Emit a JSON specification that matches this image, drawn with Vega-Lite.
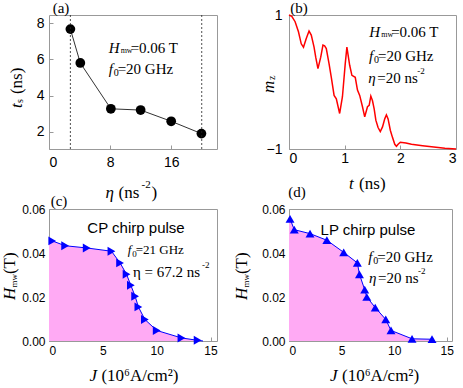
{
  "$schema": "https://vega.github.io/schema/vega-lite/v6.json",
  "padding": {"left": 0, "top": 0, "right": 0, "bottom": 0},
  "config": {
    "view": {"stroke": "#999999", "strokeWidth": 1},
    "axis": {"grid": false, "domain": false, "tickColor": "#999999", "tickSize": -4, "labelFont": "Liberation Sans", "labelFontWeight": "normal", "labelColor": "#000000", "labelFontSize": 13, "labelPadding": 8},
    "text": {"font": "Liberation Serif", "fontWeight": "normal", "color": "#000000"}
  },
  "datasets": {
    "a": [
      {"eta": 2.8, "ts": 7.67}, {"eta": 4.1, "ts": 5.8}, {"eta": 8.1, "ts": 3.27},
      {"eta": 12.0, "ts": 3.2}, {"eta": 16.0, "ts": 2.58}, {"eta": 19.96, "ts": 1.9}
    ],
    "b": [
      {"t": 0, "m": 1}, {"t": 0.05, "m": 0.98}, {"t": 0.11, "m": 0.9}, {"t": 0.17, "m": 0.75},
      {"t": 0.22, "m": 0.57}, {"t": 0.26, "m": 0.52}, {"t": 0.31, "m": 0.65}, {"t": 0.36, "m": 0.76},
      {"t": 0.4, "m": 0.7}, {"t": 0.45, "m": 0.52}, {"t": 0.48, "m": 0.37}, {"t": 0.52, "m": 0.2},
      {"t": 0.57, "m": 0.37}, {"t": 0.61, "m": 0.55}, {"t": 0.64, "m": 0.54}, {"t": 0.67, "m": 0.5},
      {"t": 0.72, "m": 0.27}, {"t": 0.76, "m": 0.07}, {"t": 0.81, "m": -0.2}, {"t": 0.85, "m": -0.25},
      {"t": 0.91, "m": -0.47}, {"t": 0.96, "m": -0.22}, {"t": 1.01, "m": 0.27}, {"t": 1.04, "m": 0.52},
      {"t": 1.09, "m": 0.25}, {"t": 1.13, "m": 0.1}, {"t": 1.19, "m": 0.07}, {"t": 1.23, "m": -0.12},
      {"t": 1.27, "m": -0.2}, {"t": 1.32, "m": -0.37}, {"t": 1.36, "m": -0.52}, {"t": 1.41, "m": -0.37},
      {"t": 1.44, "m": -0.35}, {"t": 1.47, "m": -0.21}, {"t": 1.5, "m": -0.28}, {"t": 1.53, "m": -0.4},
      {"t": 1.56, "m": -0.57}, {"t": 1.6, "m": -0.68}, {"t": 1.64, "m": -0.74}, {"t": 1.68, "m": -0.67},
      {"t": 1.72, "m": -0.55}, {"t": 1.75, "m": -0.49}, {"t": 1.78, "m": -0.55}, {"t": 1.82, "m": -0.72},
      {"t": 1.86, "m": -0.83}, {"t": 1.9, "m": -0.93}, {"t": 1.93, "m": -0.96}, {"t": 1.96, "m": -0.93},
      {"t": 2.0, "m": -0.9}, {"t": 2.1, "m": -0.91}, {"t": 2.2, "m": -0.93}, {"t": 2.4, "m": -0.95},
      {"t": 2.6, "m": -0.97}, {"t": 2.8, "m": -0.99}, {"t": 3.0, "m": -1.0}
    ],
    "c": [
      {"J": 0, "H": 0.0465, "mk": false}, {"J": 0.3, "H": 0.0455, "mk": true}, {"J": 1.5, "H": 0.0433, "mk": true},
      {"J": 3.5, "H": 0.0423, "mk": true}, {"J": 5.8, "H": 0.0408, "mk": true}, {"J": 6.6, "H": 0.0355, "mk": true},
      {"J": 7.2, "H": 0.0303, "mk": true}, {"J": 7.6, "H": 0.0253, "mk": true}, {"J": 8.0, "H": 0.0203, "mk": true},
      {"J": 8.3, "H": 0.0155, "mk": true}, {"J": 8.9, "H": 0.0098, "mk": true}, {"J": 10.0, "H": 0.0048, "mk": true},
      {"J": 12.3, "H": 0.0014, "mk": true}, {"J": 13.8, "H": 0.0003, "mk": true}, {"J": 14.3, "H": 0, "mk": false}
    ],
    "d": [
      {"J": 0, "H": 0.0565, "mk": false}, {"J": 0.1, "H": 0.0555, "mk": true}, {"J": 0.5, "H": 0.0506, "mk": true},
      {"J": 2.0, "H": 0.0488, "mk": true}, {"J": 3.6, "H": 0.0458, "mk": true}, {"J": 5.2, "H": 0.0403, "mk": true},
      {"J": 6.5, "H": 0.0355, "mk": true}, {"J": 6.7, "H": 0.0303, "mk": true}, {"J": 7.2, "H": 0.0233, "mk": true},
      {"J": 7.4, "H": 0.02, "mk": true}, {"J": 8.2, "H": 0.0152, "mk": true}, {"J": 9.2, "H": 0.0098, "mk": true},
      {"J": 9.7, "H": 0.0048, "mk": true}, {"J": 11.7, "H": 0.001, "mk": true}, {"J": 13.6, "H": 0.0008, "mk": true}
    ]
  },
  "columns": 2,
  "bounds": "flush",
  "spacing": {"row": 60, "column": 72},
  "concat": [
    {
      "width": 168, "height": 134,
      "layer": [
        {
          "data": {"name": "a"},
          "encoding": {
            "x": {"field": "eta", "type": "quantitative", "title": null, "scale": {"domain": [0, 22], "nice": false, "zero": false}, "axis": {"values": [0, 8, 16], "format": "d", "labelPadding": 10, "labelFontSize": 14}},
            "y": {"field": "ts", "type": "quantitative", "title": null, "scale": {"domain": [1.05, 8.45], "nice": false, "zero": false}, "axis": {"values": [2, 4, 6, 8], "format": "d", "labelPadding": 9, "labelFontSize": 14}}
          },
          "layer": [
            {"mark": {"type": "line", "color": "#333333", "strokeWidth": 1}},
            {"mark": {"type": "point", "filled": true, "color": "#000000", "size": 95, "opacity": 1}}
          ]
        },
        {
          "data": {"values": [{"k": 1}]},
          "layer": [
            {"mark": {"type": "rule", "color": "#222222", "strokeDash": [2, 2], "strokeWidth": 0.8}, "encoding": {"x": {"datum": 2.8}}},
            {"mark": {"type": "rule", "color": "#222222", "strokeDash": [2, 2], "strokeWidth": 0.8}, "encoding": {"x": {"datum": 20}}},
            {"mark": {"type": "text", "text": "(a)", "fontSize": 15, "align": "center"}, "encoding": {"x": {"datum": 1.57}, "y": {"datum": 8.84}}},
            {"mark": {"type": "text", "text": "H", "fontSize": 15, "fontStyle": "italic", "align": "left"}, "encoding": {"x": {"datum": 7.81}, "y": {"datum": 6.63}}},
            {"mark": {"type": "text", "text": "mw", "fontSize": 8, "align": "left", "dx": 12, "dy": 3}, "encoding": {"x": {"datum": 7.81}, "y": {"datum": 6.63}}},
            {"mark": {"type": "text", "text": "=0.06 T", "fontSize": 15, "align": "left", "dx": 22}, "encoding": {"x": {"datum": 7.81}, "y": {"datum": 6.63}}},
            {"mark": {"type": "text", "text": "f", "fontSize": 15, "fontStyle": "italic", "align": "left"}, "encoding": {"x": {"datum": 7.81}, "y": {"datum": 5.47}}},
            {"mark": {"type": "text", "text": "0", "fontSize": 10, "align": "left", "dx": 5, "dy": 4}, "encoding": {"x": {"datum": 7.81}, "y": {"datum": 5.47}}},
            {"mark": {"type": "text", "text": "=20 GHz", "fontSize": 15, "align": "left", "dx": 9}, "encoding": {"x": {"datum": 7.81}, "y": {"datum": 5.47}}},
            {"mark": {"type": "text", "text": "t", "fontSize": 17, "fontStyle": "italic", "align": "left", "angle": 270}, "encoding": {"x": {"datum": -4.2}, "y": {"datum": 3.31}}},
            {"mark": {"type": "text", "text": "s", "fontSize": 10, "align": "left", "angle": 270, "dx": 5, "dy": 3}, "encoding": {"x": {"datum": -4.2}, "y": {"datum": 3.31}}},
            {"mark": {"type": "text", "text": "(ns)", "fontSize": 17, "align": "left", "angle": 270, "dx": 14}, "encoding": {"x": {"datum": -4.2}, "y": {"datum": 3.31}}},
            {"mark": {"type": "text", "text": "η", "fontSize": 17, "fontStyle": "italic", "align": "left"}, "encoding": {"x": {"datum": 7.4}, "y": {"datum": -1.4}}},
            {"mark": {"type": "text", "text": "(ns", "fontSize": 17, "align": "left", "dx": 13}, "encoding": {"x": {"datum": 7.4}, "y": {"datum": -1.4}}},
            {"mark": {"type": "text", "text": "-2", "fontSize": 11, "align": "left", "dx": 36, "dy": -8}, "encoding": {"x": {"datum": 7.4}, "y": {"datum": -1.4}}},
            {"mark": {"type": "text", "text": ")", "fontSize": 17, "align": "left", "dx": 46}, "encoding": {"x": {"datum": 7.4}, "y": {"datum": -1.4}}}
          ]
        }
      ]
    },
    {
      "width": 167, "height": 134,
      "layer": [
        {
          "data": {"name": "b"},
          "mark": {"type": "line", "color": "#ff0000", "strokeWidth": 1.5},
          "encoding": {
            "x": {"field": "t", "type": "quantitative", "title": null, "scale": {"domain": [0, 3], "nice": false, "zero": false}, "axis": {"values": [0, 1, 2, 3], "format": "d", "labelPadding": 6, "labelFontSize": 14}},
            "y": {"field": "m", "type": "quantitative", "title": null, "scale": {"domain": [-1, 1], "nice": false, "zero": false}, "axis": {"values": [-1, 0, 1], "format": "d", "labelPadding": 11, "labelFontSize": 14}}
          }
        },
        {
          "data": {"values": [{"k": 1}]},
          "layer": [
            {"mark": {"type": "text", "text": "(b)", "fontSize": 15, "align": "center"}, "encoding": {"x": {"datum": 0.18}, "y": {"datum": 1.104}}},
            {"mark": {"type": "text", "text": "H", "fontSize": 15, "fontStyle": "italic", "align": "left"}, "encoding": {"x": {"datum": 1.44}, "y": {"datum": 0.742}}},
            {"mark": {"type": "text", "text": "mw", "fontSize": 8, "align": "left", "dx": 12, "dy": 3}, "encoding": {"x": {"datum": 1.44}, "y": {"datum": 0.742}}},
            {"mark": {"type": "text", "text": "=0.06 T", "fontSize": 15, "align": "left", "dx": 22}, "encoding": {"x": {"datum": 1.44}, "y": {"datum": 0.742}}},
            {"mark": {"type": "text", "text": "f", "fontSize": 15, "fontStyle": "italic", "align": "left"}, "encoding": {"x": {"datum": 1.437}, "y": {"datum": 0.384}}},
            {"mark": {"type": "text", "text": "0", "fontSize": 10, "align": "left", "dx": 5, "dy": 4}, "encoding": {"x": {"datum": 1.437}, "y": {"datum": 0.384}}},
            {"mark": {"type": "text", "text": "=20 GHz", "fontSize": 15, "align": "left", "dx": 9}, "encoding": {"x": {"datum": 1.437}, "y": {"datum": 0.384}}},
            {"mark": {"type": "text", "text": "η", "fontSize": 15, "fontStyle": "italic", "align": "left"}, "encoding": {"x": {"datum": 1.425}, "y": {"datum": 0.06}}},
            {"mark": {"type": "text", "text": "=20 ns", "fontSize": 15, "align": "left", "dx": 9}, "encoding": {"x": {"datum": 1.425}, "y": {"datum": 0.06}}},
            {"mark": {"type": "text", "text": "-2", "fontSize": 9, "align": "left", "dx": 49, "dy": -7}, "encoding": {"x": {"datum": 1.425}, "y": {"datum": 0.06}}},
            {"mark": {"type": "text", "text": "m", "fontSize": 17, "fontStyle": "italic", "align": "left", "angle": 270}, "encoding": {"x": {"datum": -0.36}, "y": {"datum": -0.164}}},
            {"mark": {"type": "text", "text": "z", "fontSize": 10, "align": "left", "angle": 270, "dx": 13, "dy": 3}, "encoding": {"x": {"datum": -0.36}, "y": {"datum": -0.164}}},
            {"mark": {"type": "text", "text": "t", "fontSize": 17, "fontStyle": "italic", "align": "left"}, "encoding": {"x": {"datum": 1.08}, "y": {"datum": -1.52}}},
            {"mark": {"type": "text", "text": "(ns)", "fontSize": 17, "align": "left", "dx": 10}, "encoding": {"x": {"datum": 1.08}, "y": {"datum": -1.52}}}
          ]
        }
      ]
    },
    {
      "width": 168, "height": 132,
      "layer": [
        {
          "data": {"name": "c"},
          "encoding": {
            "x": {"field": "J", "type": "quantitative", "title": null, "scale": {"domain": [0, 15.6], "nice": false, "zero": false}, "axis": {"values": [0, 5, 10, 15], "format": "d", "labelPadding": 8, "labelFontSize": 12}},
            "y": {"field": "H", "type": "quantitative", "title": null, "scale": {"domain": [0, 0.06], "nice": false, "zero": false}, "axis": {"values": [0, 0.02, 0.04, 0.06], "format": ".2f", "labelPadding": 8, "labelFontSize": 12}}
          },
          "layer": [
            {"mark": {"type": "area", "color": "#ffaaf4", "opacity": 1}},
            {"mark": {"type": "line", "color": "#0000ff", "strokeWidth": 1}},
            {"transform": [{"filter": "datum.mk"}], "mark": {"type": "point", "shape": "triangle-right", "filled": true, "color": "#0000ff", "size": 80, "opacity": 1}}
          ]
        },
        {
          "data": {"values": [{"k": 1}]},
          "layer": [
            {"mark": {"type": "text", "text": "(c)", "fontSize": 15, "align": "center"}, "encoding": {"x": {"datum": 0.93}, "y": {"datum": 0.0636}}},
            {"mark": {"type": "text", "text": "CP chirp pulse", "font": "Liberation Sans", "fontSize": 15, "align": "center"}, "encoding": {"x": {"datum": 8.08}, "y": {"datum": 0.0515}}},
            {"mark": {"type": "text", "text": "f", "fontSize": 13, "fontStyle": "italic", "align": "left"}, "encoding": {"x": {"datum": 7.31}, "y": {"datum": 0.0412}}},
            {"mark": {"type": "text", "text": "0", "fontSize": 9, "align": "left", "dx": 4.5, "dy": 4}, "encoding": {"x": {"datum": 7.31}, "y": {"datum": 0.0412}}},
            {"mark": {"type": "text", "text": "=21 GHz", "fontSize": 13, "align": "left", "dx": 8}, "encoding": {"x": {"datum": 7.31}, "y": {"datum": 0.0412}}},
            {"mark": {"type": "text", "text": "η = 67.2 ns", "fontSize": 15, "align": "left"}, "encoding": {"x": {"datum": 7.8}, "y": {"datum": 0.0314}}},
            {"mark": {"type": "text", "text": "-2", "fontSize": 9, "align": "left", "dx": 69, "dy": -7}, "encoding": {"x": {"datum": 7.8}, "y": {"datum": 0.0314}}},
            {"mark": {"type": "text", "text": "H", "fontSize": 17, "fontStyle": "italic", "align": "left", "angle": 270}, "encoding": {"x": {"datum": -3.62}, "y": {"datum": 0.0186}}},
            {"mark": {"type": "text", "text": "mw", "fontSize": 9, "align": "left", "angle": 270, "dx": 12.5, "dy": 4}, "encoding": {"x": {"datum": -3.62}, "y": {"datum": 0.0186}}},
            {"mark": {"type": "text", "text": "(T)", "fontSize": 17, "align": "left", "angle": 270, "dx": 26}, "encoding": {"x": {"datum": -3.62}, "y": {"datum": 0.0186}}},
            {"mark": {"type": "text", "text": "J", "fontSize": 17, "fontStyle": "italic", "align": "left"}, "encoding": {"x": {"datum": 3.75}, "y": {"datum": -0.0159}}},
            {"mark": {"type": "text", "text": "(10⁶A/cm²)", "fontSize": 17, "align": "left", "dx": 12}, "encoding": {"x": {"datum": 3.75}, "y": {"datum": -0.0159}}}
          ]
        }
      ]
    },
    {
      "width": 163, "height": 132,
      "layer": [
        {
          "data": {"name": "d"},
          "encoding": {
            "x": {"field": "J", "type": "quantitative", "title": null, "scale": {"domain": [0, 15.5], "nice": false, "zero": false}, "axis": {"values": [0, 5, 10, 15], "format": "d", "labelPadding": 8, "labelFontSize": 12}},
            "y": {"field": "H", "type": "quantitative", "title": null, "scale": {"domain": [0, 0.06], "nice": false, "zero": false}, "axis": {"values": [0, 0.02, 0.04, 0.06], "format": ".2f", "labelPadding": 8, "labelFontSize": 12}}
          },
          "layer": [
            {"mark": {"type": "area", "color": "#ffaaf4", "opacity": 1}},
            {"transform": [{"filter": "datum.mk"}], "mark": {"type": "line", "color": "#0000ff", "strokeWidth": 1}},
            {"transform": [{"filter": "datum.mk"}], "mark": {"type": "point", "shape": "triangle-up", "filled": true, "color": "#0000ff", "size": 80, "opacity": 1}}
          ]
        },
        {
          "data": {"values": [{"k": 1}]},
          "layer": [
            {"mark": {"type": "text", "text": "(d)", "fontSize": 15, "align": "center"}, "encoding": {"x": {"datum": 0.76}, "y": {"datum": 0.0677}}},
            {"mark": {"type": "text", "text": "LP chirp pulse", "font": "Liberation Sans", "fontSize": 15, "align": "center"}, "encoding": {"x": {"datum": 7.51}, "y": {"datum": 0.0506}}},
            {"mark": {"type": "text", "text": "f", "fontSize": 15, "fontStyle": "italic", "align": "left"}, "encoding": {"x": {"datum": 7.54}, "y": {"datum": 0.0382}}},
            {"mark": {"type": "text", "text": "0", "fontSize": 10, "align": "left", "dx": 5, "dy": 4}, "encoding": {"x": {"datum": 7.54}, "y": {"datum": 0.0382}}},
            {"mark": {"type": "text", "text": "=20 GHz", "fontSize": 15, "align": "left", "dx": 9}, "encoding": {"x": {"datum": 7.54}, "y": {"datum": 0.0382}}},
            {"mark": {"type": "text", "text": "η", "fontSize": 15, "fontStyle": "italic", "align": "left"}, "encoding": {"x": {"datum": 7.6}, "y": {"datum": 0.0288}}},
            {"mark": {"type": "text", "text": "=20 ns", "fontSize": 15, "align": "left", "dx": 9}, "encoding": {"x": {"datum": 7.6}, "y": {"datum": 0.0288}}},
            {"mark": {"type": "text", "text": "-2", "fontSize": 9, "align": "left", "dx": 49, "dy": -7}, "encoding": {"x": {"datum": 7.6}, "y": {"datum": 0.0288}}},
            {"mark": {"type": "text", "text": "H", "fontSize": 17, "fontStyle": "italic", "align": "left", "angle": 270}, "encoding": {"x": {"datum": -4.47}, "y": {"datum": 0.0186}}},
            {"mark": {"type": "text", "text": "mw", "fontSize": 9, "align": "left", "angle": 270, "dx": 12.5, "dy": 4}, "encoding": {"x": {"datum": -4.47}, "y": {"datum": 0.0186}}},
            {"mark": {"type": "text", "text": "(T)", "fontSize": 17, "align": "left", "angle": 270, "dx": 26}, "encoding": {"x": {"datum": -4.47}, "y": {"datum": 0.0186}}},
            {"mark": {"type": "text", "text": "J", "fontSize": 17, "fontStyle": "italic", "align": "left"}, "encoding": {"x": {"datum": 3.9}, "y": {"datum": -0.0159}}},
            {"mark": {"type": "text", "text": "(10⁶A/cm²)", "fontSize": 17, "align": "left", "dx": 12}, "encoding": {"x": {"datum": 3.9}, "y": {"datum": -0.0159}}}
          ]
        }
      ]
    }
  ]
}
